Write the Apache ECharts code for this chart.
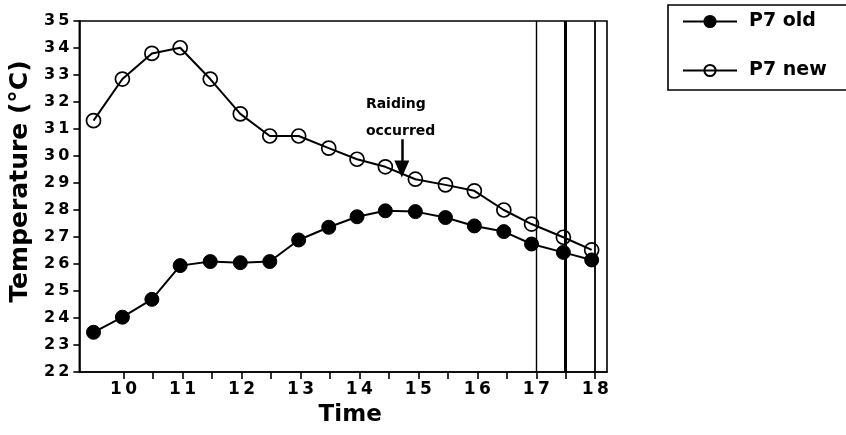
<!DOCTYPE html>
<html>
<head>
<meta charset="utf-8">
<script src="https://cdn.jsdelivr.net/npm/echarts@6/dist/echarts.min.js"></script>
<style>
  html, body { margin: 0; padding: 0; background: #ffffff; }
  #chart { width: 846px; height: 435px; }
</style>
</head>
<body>
<div id="chart"></div>
<script>
// Sampling times (hours of the day) and nest temperatures (°C)
const times = [9.49, 9.98, 10.48, 10.96, 11.47, 11.98, 12.48, 12.97, 13.48, 13.96, 14.44, 14.95, 15.46, 15.95, 16.45, 16.92, 17.46, 17.94];
const p7Old = [23.47, 24.03, 24.69, 25.94, 26.09, 26.05, 26.09, 26.89, 27.36, 27.75, 27.97, 27.94, 27.72, 27.41, 27.20, 26.74, 26.43, 26.15];
const p7New = [31.31, 32.85, 33.80, 34.01, 32.85, 31.56, 30.74, 30.74, 30.29, 29.88, 29.60, 29.14, 28.93, 28.71, 28.00, 27.48, 26.99, 26.52];

// Axis ticks and labels
const xTickValues = [10, 10.5, 11, 11.5, 12, 12.5, 13, 13.5, 14, 14.5, 15, 15.5, 16, 16.5, 17, 17.5, 18];
const xLabelValues = [10, 11, 12, 13, 14, 15, 16, 17, 18];
const yMin = 22, yMax = 35, yStep = 1;

// Reference times marked with vertical rules
const ruleTimes = [17, 17.5, 18];
const ruleWidths = [1.4, 3, 1.8];

// Raid annotation: arrow time and its top / tip temperatures
const raidTime = 14.72;
const raidArrow = [30.62, 29.52];
const raidText = 'Raiding\noccurred';
const raidTextAt = [14.11, 32.43];

const FONT = 'DejaVu Sans';
const INK = '#000000';

// spread the digits of a number a little, as in the printed axis labels
const spaced = v => String(v).split('').join('\u2009');

const chart = echarts.init(document.getElementById('chart'), null, { renderer: 'canvas' });

const option = {
  backgroundColor: '#ffffff',
  animation: false,
  grid: {
    left: 79, right: 239, top: 21, bottom: 63,
    show: true, borderColor: INK, borderWidth: 1.6, backgroundColor: 'transparent'
  },
  legend: {
    orient: 'vertical',
    left: 668, top: 5,
    padding: [7, 40, 10, 14],
    borderColor: INK, borderWidth: 1.6,
    itemWidth: 54, itemHeight: 14, itemGap: 30,
    textStyle: { fontFamily: FONT, fontWeight: 'bold', fontSize: 19, color: INK, padding: [0, 0, 0, 7] },
    data: ['P7 old', 'P7 new']
  },
  xAxis: {
    type: 'value',
    min: 9.25, max: 18.2,
    name: 'Time',
    nameLocation: 'middle',
    nameGap: 32,
    nameTextStyle: { fontFamily: FONT, fontWeight: 'bold', fontSize: 23, color: INK, padding: [0, 0, 0, 14] },
    axisLine: { show: true, lineStyle: { color: INK, width: 1.6 } },
    axisTick: { show: true, inside: false, length: 7, customValues: xTickValues, lineStyle: { color: INK, width: 1.6 } },
    axisLabel: {
      customValues: xLabelValues,
      margin: 9,
      fontFamily: FONT, fontWeight: 'bold', fontSize: 17, color: INK,
      formatter: spaced
    },
    splitLine: { show: false }
  },
  yAxis: {
    type: 'value',
    min: yMin, max: yMax, interval: yStep,
    name: 'Temperature (°C)',
    nameLocation: 'middle',
    nameGap: 45,
    nameRotate: 90,
    nameTextStyle: { fontFamily: FONT, fontWeight: 'bold', fontSize: 25, color: INK, padding: [0, 0, 0, 30] },
    axisLine: { show: true, lineStyle: { color: INK, width: 1.6 } },
    axisTick: { show: true, inside: false, length: 6, lineStyle: { color: INK, width: 1.6 } },
    axisLabel: {
      margin: 10,
      fontFamily: FONT, fontWeight: 'bold', fontSize: 16, color: INK,
      formatter: spaced
    },
    splitLine: { show: false }
  },
  series: [
    {
      name: 'P7 old',
      type: 'line',
      data: times.map((t, i) => [t, p7Old[i]]),
      symbol: 'circle', symbolSize: 14,
      itemStyle: { color: INK, borderColor: INK, borderWidth: 1 },
      lineStyle: { color: INK, width: 2 },
      markLine: {
        silent: true,
        symbol: ['none', 'none'],
        label: { show: false },
        data: ruleTimes.map((t, i) => ({ xAxis: t, lineStyle: { color: INK, type: 'solid', width: ruleWidths[i] } }))
      },
      z: 3
    },
    {
      name: 'P7 new',
      type: 'line',
      data: times.map((t, i) => [t, p7New[i]]),
      symbol: 'circle', symbolSize: 14,
      itemStyle: { color: 'rgba(255,255,255,0)', borderColor: INK, borderWidth: 1.7 },
      lineStyle: { color: INK, width: 2 },
      markLine: {
        silent: true,
        symbol: ['none', 'triangle'],
        symbolSize: [15, 17],
        label: { show: false },
        lineStyle: { color: INK, type: 'solid', width: 2.5 },
        data: [[
          { coord: [raidTime, raidArrow[0]] },
          { coord: [raidTime, raidArrow[1]] }
        ]]
      },
      z: 4
    }
  ]
};

chart.setOption(option);

// annotation text placed through the axis scales
const at = chart.convertToPixel({ gridIndex: 0 }, raidTextAt);
chart.setOption({
  graphic: [{
    type: 'text',
    left: at[0], top: at[1],
    style: {
      text: raidText,
      fontFamily: FONT, fontWeight: 'bold', fontSize: 14, lineHeight: 27,
      fill: INK, textAlign: 'left'
    }
  }]
});
</script>
</body>
</html>
